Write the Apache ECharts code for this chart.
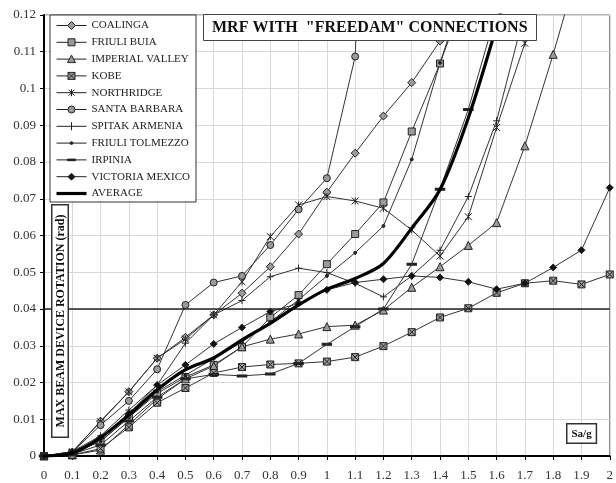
<!DOCTYPE html>
<html><head><meta charset="utf-8">
<script src="https://cdn.jsdelivr.net/npm/echarts@6/dist/echarts.min.js"></script>
<style>html,body{margin:0;padding:0;background:#fff}#c{width:616px;height:483px}</style>
</head><body><div id="c"></div>
<script>
const sa = [0,0.1,0.2,0.3,0.4,0.5,0.6,0.7,0.8,0.9,1.0,1.1,1.2,1.3,1.4,1.5,1.6,1.7,1.8,1.9,2.0];
const seriesNames = ['COALINGA','FRIULI BUIA','IMPERIAL VALLEY','KOBE','NORTHRIDGE','SANTA BARBARA','SPITAK ARMENIA','FRIULI TOLMEZZO','IRPINIA','VICTORIA MEXICO','AVERAGE'];
const coalinga = [0,0.001,0.0095,0.0175,0.0266,0.0323,0.0384,0.0443,0.0515,0.0604,0.0718,0.0824,0.0925,0.1016,0.1129,0.124];
const friuliBuia = [0,0.0008,0.004,0.0105,0.017,0.0215,0.0248,0.0297,0.0377,0.0438,0.0522,0.0604,0.069,0.0883,0.1068,0.128];
const imperialValley = [0,0.0003,0.0016,0.0085,0.0155,0.021,0.0245,0.0297,0.0318,0.0332,0.0352,0.0356,0.0397,0.0459,0.0515,0.0573,0.0635,0.0844,0.1093,0.136];
const kobe = [0,0.0003,0.002,0.0078,0.0145,0.0185,0.0226,0.0242,0.0249,0.0252,0.0257,0.0269,0.0299,0.0337,0.0377,0.0402,0.0444,0.047,0.0477,0.0467,0.0494];
const northridge = [0,0.0012,0.0093,0.0175,0.0266,0.0318,0.0384,0.0474,0.0597,0.0683,0.0706,0.0694,0.0674,0.0615,0.0544,0.0651,0.0894,0.1123,0.15];
const santaBarbara = [0,0.001,0.0084,0.015,0.0236,0.0411,0.0472,0.049,0.0574,0.0671,0.0756,0.1087,0.30];
const spitakArmenia = [0,0.0012,0.0055,0.0125,0.0193,0.0307,0.0384,0.0423,0.0488,0.0511,0.0499,0.047,0.0433,0.049,0.056,0.0706,0.0912,0.121,0.15];
const friuliTolmezzo = [0,0.0008,0.004,0.0105,0.0175,0.022,0.0265,0.031,0.0365,0.0425,0.049,0.0553,0.0626,0.0807,0.107,0.13];
const irpinia = [0,0.0005,0.003,0.0095,0.016,0.021,0.0222,0.0218,0.0223,0.0252,0.0304,0.0352,0.040,0.0522,0.0726,0.0943,0.121,0.15];
const victoriaMexico = [0,0.001,0.005,0.0115,0.0193,0.0248,0.0305,0.035,0.0393,0.0415,0.0452,0.0472,0.0481,0.049,0.0486,0.0474,0.0454,0.047,0.0513,0.056,0.073];
const average = [0,0.0008,0.005,0.0112,0.018,0.0235,0.0267,0.0316,0.0361,0.0411,0.0454,0.0483,0.0524,0.062,0.0725,0.092,0.117,0.145];
const yTicks = ['0','0.01','0.02','0.03','0.04','0.05','0.06','0.07','0.08','0.09','0.1','0.11','0.12'];
const limitValue = 0.04;

const allData = [coalinga,friuliBuia,imperialValley,kobe,northridge,santaBarbara,spitakArmenia,friuliTolmezzo,irpinia,victoriaMexico,average];
const FONT = 'Liberation Serif';
const GRAY = '#9a9a9a', DARK = '#2a2a2a';
const BOX = 'M0,0M30,10';
const symbols = [
  {symbol:'diamond', size:8, fill:GRAY, icon:BOX+'M0,5L11,5M19,5L30,5M15,1L19,5L15,9L11,5Z'},
  {symbol:'rect', size:7, fill:GRAY, icon:BOX+'M0,5L11.5,5M18.5,5L30,5M11.5,1.5L18.5,1.5L18.5,8.5L11.5,8.5Z'},
  {symbol:'triangle', size:8, fill:GRAY, icon:BOX+'M0,5L12.5,5M17.5,5L30,5M15,1L19,8.5L11,8.5Z'},
  {symbol:'path://M0,0L10,0L10,10L0,10Z M0,0L10,10 M10,0L0,10', size:7, fill:GRAY,
    icon:BOX+'M0,5L11.5,5M18.5,5L30,5M11.5,1.5L18.5,1.5L18.5,8.5L11.5,8.5ZM11.5,1.5L18.5,8.5M18.5,1.5L11.5,8.5'},
  {symbol:'path://M0,0L10,10M10,0L0,10M5,0L5,10', size:7, fill:'none', icon:BOX+'M0,5L30,5M12,2L18,8M18,2L12,8M15,1.5L15,8.5'},
  {symbol:'circle', size:7, fill:GRAY, icon:BOX+'M0,5L11.5,5M18.5,5L30,5M11.5,5A3.5,3.5 0 1 1 18.5,5A3.5,3.5 0 1 1 11.5,5Z'},
  {symbol:'path://M5,0L5,10M0,5L10,5', size:7, fill:'none', icon:BOX+'M0,5L30,5M15,1L15,9M14.5,5L15.5,5'},
  {symbol:'circle', size:3, fill:DARK, icon:BOX+'M0,5L30,5M13.6,5A1.4,1.4 0 1 1 16.4,5A1.4,1.4 0 1 1 13.6,5Z'},
  {symbol:'rect', size:[7,2], fill:DARK, icon:BOX+'M0,5L30,5M11,4.2L19,4.2L19,5.8L11,5.8Z'},
  {symbol:'diamond', size:7, fill:'#111', icon:BOX+'M0,5L30,5M15,1.5L18.5,5L15,8.5L11.5,5Z'},
  {symbol:'none', size:0, fill:'#000', icon:BOX+'M0,3.4L30,3.4L30,6.6L0,6.6Z'}
];

const series = seriesNames.map((name,i)=>{
  const s = symbols[i];
  const isAvg = name === 'AVERAGE';
  const obj = {
    name, type:'line',
    data: allData[i].map((v,k)=>[sa[k], v]),
    symbol: s.symbol, symbolSize: s.size, showSymbol: !isAvg,
    smooth: isAvg ? 0.3 : false,
    lineStyle: {color: isAvg ? '#000' : '#333', width: isAvg ? 3.2 : 1},
    itemStyle: {color: s.fill === 'none' ? '#333' : s.fill, borderColor: '#222', borderWidth: 1},
    z: isAvg ? 5 : 3,
    clip: true
  };
  if (isAvg) {
    obj.markLine = {silent:true, symbol:'none', label:{show:false}, animation:false,
      lineStyle:{color:'#222', width:1.5, type:'solid'}, data:[{yAxis: limitValue}]};
  }
  return obj;
});

const legendData = seriesNames.map((name,i)=>({
  name, icon:'path://'+symbols[i].icon,
  itemStyle: name === 'AVERAGE' ? {color:'#000', borderWidth:0} :
    {color: symbols[i].fill === 'none' ? '#222' : symbols[i].fill, borderColor:'#222', borderWidth:1}
}));

const chart = echarts.init(document.getElementById('c'));
chart.setOption({
  animation:false,
  backgroundColor:'#fff',
  title:{text:'MRF WITH  "FREEDAM" CONNECTIONS', left:203, top:14,
    padding:[6,9,5,9], borderColor:'#444', borderWidth:1, backgroundColor:'#fff',
    textStyle:{fontFamily:FONT, fontWeight:'bold', fontSize:16, color:'#111'}},
  legend:{orient:'vertical', left:50, top:15, data:legendData,
    backgroundColor:'#fff', borderColor:'#333', borderWidth:1, padding:[5,6,3,6],
    itemWidth:30, itemHeight:10, itemGap:5.8, symbolKeepAspect:false,
    textStyle:{fontFamily:FONT, fontSize:11, color:'#222'}},
  grid:{left:44, right:3, top:15, bottom:27, show:true, borderColor:'#666', borderWidth:1},
  xAxis:{type:'value', min:0, max:2, interval:0.1,
    axisLine:{show:true, lineStyle:{color:'#000', width:2}, onZero:false},
    axisTick:{show:true, length:4, lineStyle:{color:'#000'}},
    axisLabel:{fontFamily:FONT, fontSize:13, color:'#333', margin:13,
      formatter:v=>String(Math.round(v*10)/10)},
    splitLine:{show:true, lineStyle:{color:'#d8d8d8', width:1}}},
  yAxis:{type:'value', min:0, max:0.12, interval:0.01,
    axisLine:{show:true, lineStyle:{color:'#000', width:2}},
    axisTick:{show:true, length:4, lineStyle:{color:'#000'}},
    axisLabel:{fontFamily:FONT, fontSize:13, color:'#333', margin:8,
      formatter:(v)=>yTicks[Math.round(v*100)]},
    splitLine:{show:true, lineStyle:{color:'#d8d8d8', width:1}}},
  graphic:[
    {type:'text', left:51, top:204, rotation:Math.PI/2, z:100,
      style:{text:'MAX BEAM DEVICE ROTATION (rad)', font:'bold 12px "Liberation Serif"', fill:'#111',
        backgroundColor:'#fff', borderColor:'#333', borderWidth:1.5, padding:[2,9,1,9]}},
    {type:'text', left:566, top:423, z:100,
      style:{text:'Sa/g', font:'bold 11px "Liberation Serif"', fill:'#111',
        backgroundColor:'#fff', borderColor:'#333', borderWidth:1.5, padding:[4,4,3,4]}}
  ],
  series
});
</script></body></html>
